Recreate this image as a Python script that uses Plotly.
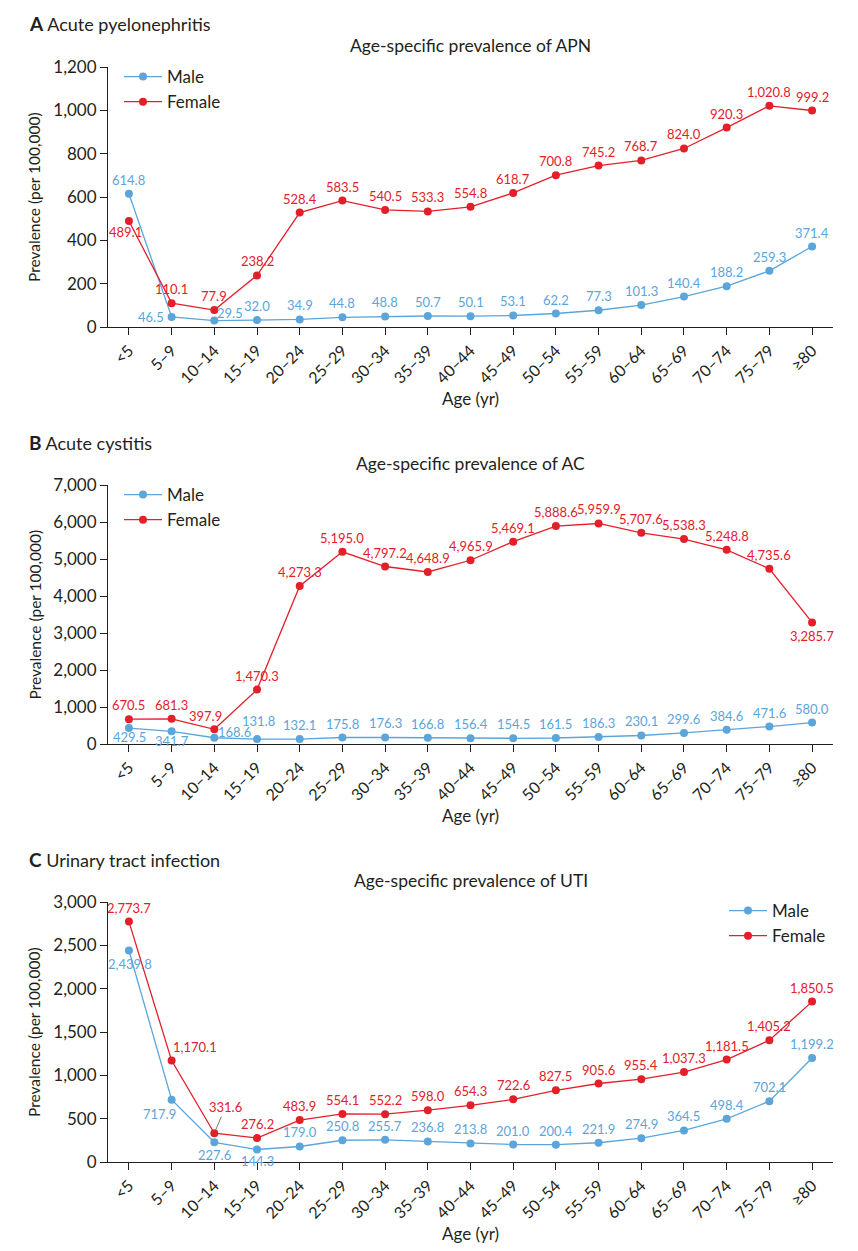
import plotly.graph_objects as go

# age groups shared by all three panels
age_groups = ["<5", "5–9", "10–14", "15–19", "20–24", "25–29", "30–34", "35–39", "40–44",
              "45–49", "50–54", "55–59", "60–64", "65–69", "70–74", "75–79", "≥80"]

# A: acute pyelonephritis (per 100,000)
apn_male = [614.8, 46.5, 29.5, 32.0, 34.9, 44.8, 48.8, 50.7, 50.1, 53.1, 62.2, 77.3,
            101.3, 140.4, 188.2, 259.3, 371.4]
apn_female = [489.1, 110.1, 77.9, 238.2, 528.4, 583.5, 540.5, 533.3, 554.8, 618.7, 700.8,
              745.2, 768.7, 824.0, 920.3, 1020.8, 999.2]

# B: acute cystitis
ac_male = [429.5, 341.7, 168.6, 131.8, 132.1, 175.8, 176.3, 166.8, 156.4, 154.5, 161.5,
           186.3, 230.1, 299.6, 384.6, 471.6, 580.0]
ac_female = [670.5, 681.3, 397.9, 1470.3, 4273.3, 5195.0, 4797.2, 4648.9, 4965.9, 5469.1,
             5888.6, 5959.9, 5707.6, 5538.3, 5248.8, 4735.6, 3285.7]

# C: urinary tract infection
uti_male = [2439.8, 717.9, 227.6, 144.3, 179.0, 250.8, 255.7, 236.8, 213.8, 201.0, 200.4,
            221.9, 274.9, 364.5, 498.4, 702.1, 1199.2]
uti_female = [2773.7, 1170.1, 331.6, 276.2, 483.9, 554.1, 552.2, 598.0, 654.3, 722.6, 827.5,
              905.6, 955.4, 1037.3, 1181.5, 1405.2, 1850.5]

W, H = 858, 1251
PAGE = 8  # the page body margin shifts the figure by this much
FONT = "Lato"
INK = "#231f20"
BLUE = "#5ba5db"
RED = "#e3202a"


def fx(x):
    # page pixel column -> paper fraction
    return (x - PAGE) / W


def fy(y):
    # page pixel row -> paper fraction
    return 1 - (y - PAGE) / H


# label offsets (dx right, dy down, in px) that differ from the default "just above"
DEFAULT = (0, -14)
panels = [
    dict(suf="", male=apn_male, female=apn_female, top=67, bot=327, ymax=1200, dtick=200,
         letter="A", name="Acute pyelonephritis", abbr="APN", legend="legend",
         male_off={1: (-21, 0), 2: (16, -8)}, female_off={0: (-3, 11)}),
    dict(suf="2", male=ac_male, female=ac_female, top=485, bot=744, ymax=7000, dtick=1000,
         letter="B", name="Acute cystitis", abbr="AC", legend="legend2",
         male_off={0: (1, 9), 1: (0, 10), 2: (20, -6), 3: (1, -18)},
         female_off={2: (-9, -13), 16: (0, 14)}),
    dict(suf="3", male=uti_male, female=uti_female, top=902, bot=1162, ymax=3000, dtick=500,
         letter="C", name="Urinary tract infection", abbr="UTI", legend="legend3",
         male_off={0: (1, 13), 1: (-12, 14), 2: (0, 13), 3: (0, 12)},
         female_off={1: (23, -14)}),
]

fig = go.Figure()
annotations = []
x_dom = [fx(108), fx(833)]
x_mid = (x_dom[0] + x_dom[1]) / 2

for p in panels:
    suf = p["suf"]
    for series, vals, color, offs in [("Male", p["male"], BLUE, p["male_off"]),
                                      ("Female", p["female"], RED, p["female_off"])]:
        fig.add_trace(go.Scatter(
            x=age_groups, y=vals, name=series, mode="lines+markers",
            line=dict(color=color, width=1.3),
            marker=dict(color=color, size=8),
            xaxis="x" + suf, yaxis="y" + suf, legend=p["legend"], cliponaxis=False,
            hoverinfo="skip",
        ))
        for i, v in enumerate(vals):
            if suf == "3" and series == "Female" and i == 2:
                # this one sits up-right with a small leader line
                annotations.append(dict(
                    text=f"{v:,.1f}", x=age_groups[i], y=v, xref="x3", yref="y3",
                    ax=11, ay=-26, showarrow=True, arrowhead=0, arrowwidth=1,
                    arrowcolor="#777777", standoff=4,
                    font=dict(family=FONT, size=13, color=color)))
                continue
            dx, dy = offs.get(i, DEFAULT)
            annotations.append(dict(
                text=f"{v:,.1f}", x=age_groups[i], y=v, xref="x" + suf, yref="y" + suf,
                xshift=dx, yshift=-dy, showarrow=False, xanchor="center", yanchor="middle",
                font=dict(family=FONT, size=13, color=color)))

    top, bot = p["top"], p["bot"]
    fig.update_layout(**{
        "xaxis" + suf: dict(
            domain=x_dom, anchor="y" + suf, type="category", range=[-0.49, 16.49],
            showline=True, linecolor=INK, linewidth=1, ticks="outside", ticklen=7,
            tickcolor=INK, tickangle=-45, showgrid=False, zeroline=False, automargin=False,
            tickfont=dict(family=FONT, size=16, color=INK),
        ),
        "yaxis" + suf: dict(
            domain=[fy(bot), fy(top)], anchor="x" + suf, range=[0, p["ymax"]],
            dtick=p["dtick"], tickformat=",", showline=True, linecolor=INK, linewidth=1,
            ticks="outside", ticklen=7, tickcolor=INK, showgrid=False, zeroline=False,
            automargin=False, tickfont=dict(family=FONT, size=17, color=INK),
        ),
    })

    annotations += [
        dict(text=f"<b><span style='font-size:19px'>{p['letter']}</span></b> {p['name']}",
             x=fx(27), y=fy(top - 43), xref="paper", yref="paper", xanchor="left",
             yanchor="middle", showarrow=False, font=dict(family=FONT, size=18, color=INK)),
        dict(text=f"Age-specific prevalence of {p['abbr']}", x=x_mid, y=fy(top - 22),
             xref="paper", yref="paper", xanchor="center", yanchor="middle", showarrow=False,
             font=dict(family=FONT, size=17.5, color=INK)),
        dict(text="Age (yr)", x=x_mid, y=fy(bot + 71), xref="paper", yref="paper",
             xanchor="center", yanchor="middle", showarrow=False,
             font=dict(family=FONT, size=17, color=INK)),
        dict(text="Prevalence (per 100,000)", x=fx(34), y=fy((top + bot) / 2), xref="paper",
             yref="paper", xanchor="center", yanchor="middle", textangle=-90, showarrow=False,
             font=dict(family=FONT, size=15.5, color=INK)),
    ]

leg_style = dict(bgcolor="rgba(0,0,0,0)", font=dict(family=FONT, size=17, color=INK),
                 xanchor="left", yanchor="top", itemwidth=38, tracegroupgap=0)

fig.update_layout(
    width=W, height=H, margin=dict(l=0, r=0, t=0, b=0, autoexpand=False),
    paper_bgcolor="white", plot_bgcolor="white",
    font=dict(family=FONT, color=INK),
    annotations=annotations,
    legend=dict(x=fx(119), y=fy(59), **leg_style),
    legend2=dict(x=fx(119), y=fy(477), **leg_style),
    legend3=dict(x=fx(724), y=fy(893), **leg_style),
)

fig.write_html("out.html")
